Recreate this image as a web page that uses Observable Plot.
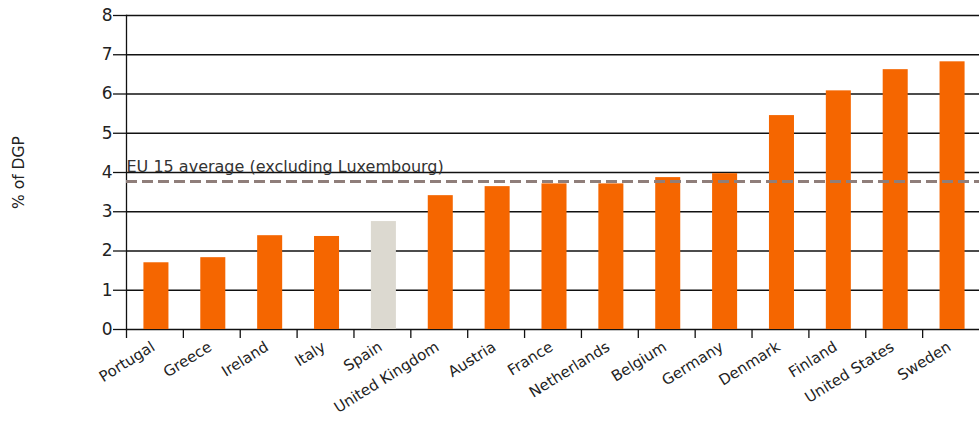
<!DOCTYPE html>
<html><head><meta charset="utf-8">
<script src="https://cdn.jsdelivr.net/npm/d3@7"></script>
<script src="https://cdn.jsdelivr.net/npm/@observablehq/plot@0.6"></script>
<style>body{margin:0;background:#fff} svg{display:block}</style>
</head><body><div id="chart"></div>
<script>
const countries = ["Portugal","Greece","Ireland","Italy","Spain","United Kingdom","Austria","France","Netherlands","Belgium","Germany","Denmark","Finland","United States","Sweden"];
const values = [1.70,1.83,2.39,2.37,2.75,3.41,3.64,3.71,3.71,3.87,3.97,5.45,6.08,6.62,6.82];
const highlight = "Spain";
const euAverage = 3.77;
const euLabel = "EU 15 average (excluding Luxembourg)";
const yTicks = [0,1,2,3,4,5,6,7,8];
const yLabel = "% of DGP";

const data = countries.map((c, i) => ({country: c, value: values[i]}));
const W = 979, H = 421, ml = 126, mr = 0, mt = 15, mb = 92;
const step = (W - ml - mr) / countries.length;

const chart = Plot.plot({
  width: W, height: H,
  marginLeft: ml, marginRight: mr, marginTop: mt, marginBottom: mb,
  style: {fontFamily: "'DejaVu Sans', Verdana, sans-serif", color: "#111", background: "#fff"},
  x: {domain: countries, paddingInner: 0.56, paddingOuter: 0.28, round: false, axis: null},
  y: {domain: [0, 8], axis: null},
  marks: [
    Plot.ruleY(yTicks, {stroke: "#111", strokeWidth: 1.3}),
    Plot.frame({anchor: "left", stroke: "#111", strokeWidth: 1.3}),
    Plot.axisY({ticks: yTicks, tickSize: 13, tickPadding: 1, fontSize: 17, stroke: "#111", strokeWidth: 1.3, label: null, fill: "#222"}),
    Plot.axisX({tickSize: 9, tickFormat: () => "", dx: -step / 2, stroke: "#111", strokeWidth: 1.3, label: null}),
    Plot.barY(data, {x: "country", y: "value", dx: 1.5, fill: d => d.country === highlight ? "#dcd9d0" : "#f56600"}),
    Plot.ruleY([euAverage], {stroke: "#8f7e7a", strokeWidth: 3, strokeDasharray: "11,5"}),
    Plot.text([euLabel], {frameAnchor: "left", y: () => euAverage, text: d => d, textAnchor: "start", lineAnchor: "bottom", dy: -10, fontSize: 16, fill: "#333"}),
    Plot.text(data, {x: "country", frameAnchor: "bottom", text: "country", rotate: -32, textAnchor: "end", lineAnchor: "bottom", dx: 1, dy: 20, fontSize: 15, fill: "#222"}),
    Plot.text([yLabel], {frameAnchor: "left", text: d => d, rotate: -90, textAnchor: "middle", lineAnchor: "middle", dx: -107, fontSize: 15.5, fill: "#222"})
  ]
});
document.getElementById("chart").appendChild(chart);
</script>
</body></html>
